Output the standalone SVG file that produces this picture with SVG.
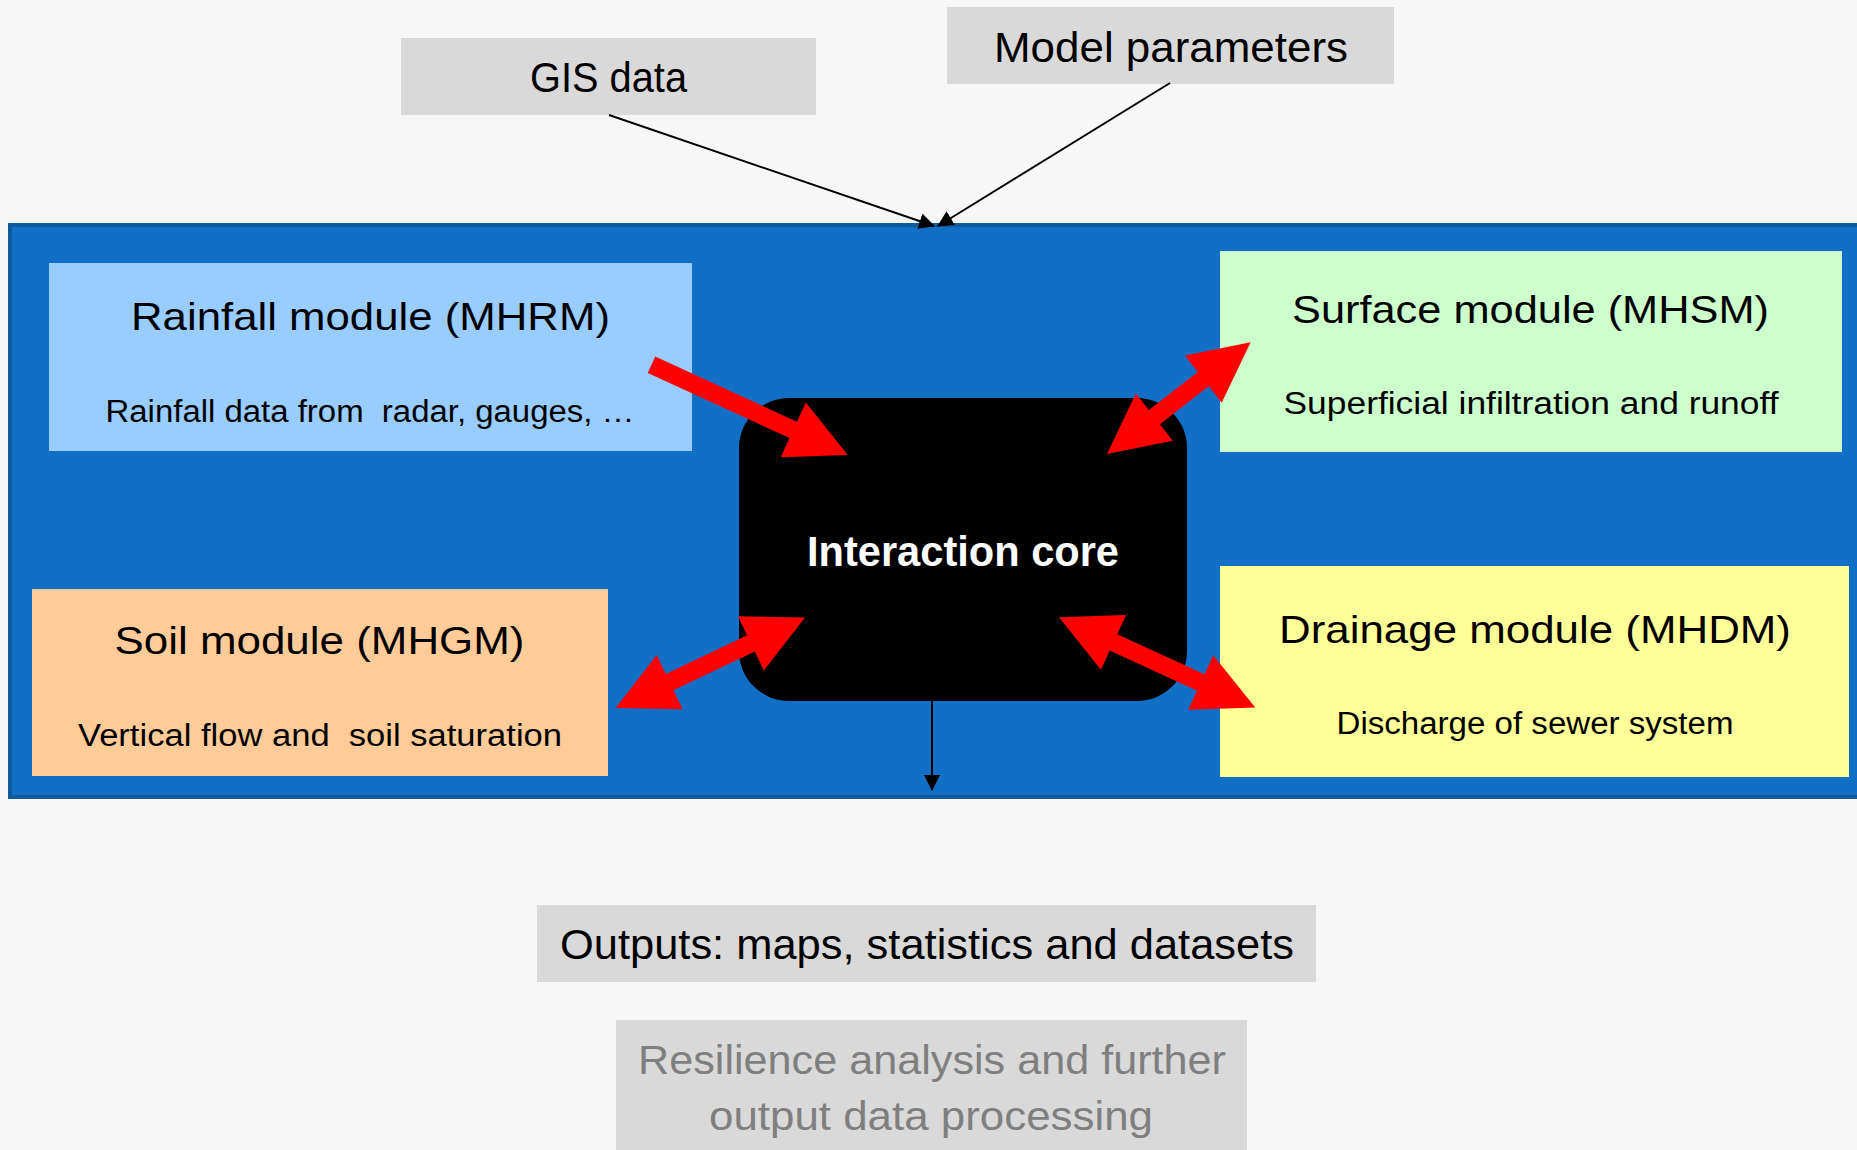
<svg xmlns="http://www.w3.org/2000/svg" width="1857" height="1150" viewBox="0 0 1857 1150">
<style>
  text { font-family: "Liberation Sans", Arial, sans-serif; text-anchor: middle; fill: #000; }
  .t40 { font-size: 39px; }
  .t31 { font-size: 31px; }
  .t42 { font-size: 42px; }
  .core { font-size: 42px; font-weight: bold; fill: #fff; }
  .grey { fill: #7F7F7F; font-size: 40px; }
  .gbox { fill: #D9D9D9; }
  .red { fill: #FF0000; }
  .thin { stroke: #000; stroke-width: 2; fill: none; }
</style>
<defs>
  <marker id="ah" markerWidth="16" markerHeight="16" refX="15" refY="8" orient="auto" markerUnits="userSpaceOnUse">
    <path d="M0,0 L16,8 L0,16 Z" fill="#000"/>
  </marker>
</defs>
<rect x="0" y="0" width="1857" height="1150" fill="#F7F7F7"/>

<g id="panel">
  <rect x="10" y="225" width="1860" height="572" fill="#1170C5" stroke="#0F5A9C" stroke-width="4"/>
</g>

<g id="gis">
  <rect class="gbox" x="401" y="38" width="415" height="77"/>
  <text class="t42" x="608.5" y="92" textLength="157" lengthAdjust="spacingAndGlyphs">GIS data</text>
</g>
<g id="params">
  <rect class="gbox" x="947" y="7" width="447" height="77"/>
  <text class="t42" x="1171" y="62" textLength="354" lengthAdjust="spacingAndGlyphs">Model parameters</text>
</g>

<g id="rainfall">
  <rect x="49" y="263" width="643" height="188" fill="#99CCFF"/>
  <text class="t40" x="370.5" y="329.5" textLength="479" lengthAdjust="spacingAndGlyphs">Rainfall module (MHRM)</text>
  <text class="t31" x="370" y="422" textLength="529" lengthAdjust="spacingAndGlyphs" xml:space="preserve">Rainfall data from  radar, gauges, …</text>
</g>
<g id="soil">
  <rect x="32" y="589" width="576" height="187" fill="#FFCC99"/>
  <text class="t40" x="319.5" y="654" textLength="410" lengthAdjust="spacingAndGlyphs">Soil module (MHGM)</text>
  <text class="t31" x="320" y="746" textLength="484" lengthAdjust="spacingAndGlyphs" xml:space="preserve">Vertical flow and  soil saturation</text>
</g>
<g id="surface">
  <rect x="1220" y="251" width="622" height="201" fill="#CCFFCC"/>
  <text class="t40" x="1530.5" y="322.5" textLength="477" lengthAdjust="spacingAndGlyphs">Surface module (MHSM)</text>
  <text class="t31" x="1531" y="414" textLength="495" lengthAdjust="spacingAndGlyphs">Superficial infiltration and runoff</text>
</g>
<g id="drainage">
  <rect x="1220" y="566" width="629" height="211" fill="#FFFF99"/>
  <text class="t40" x="1535" y="643" textLength="512" lengthAdjust="spacingAndGlyphs">Drainage module (MHDM)</text>
  <text class="t31" x="1535" y="734" textLength="397" lengthAdjust="spacingAndGlyphs">Discharge of sewer system</text>
</g>
<g id="core">
  <rect x="739" y="398" width="448" height="303" rx="50" ry="50" fill="#000"/>
  <text class="core" x="963" y="566" textLength="312" lengthAdjust="spacingAndGlyphs">Interaction core</text>
</g>

<g id="outputs">
  <rect class="gbox" x="537" y="905" width="779" height="77"/>
  <text class="t42" x="927" y="959" textLength="734" lengthAdjust="spacingAndGlyphs">Outputs: maps, statistics and datasets</text>
</g>
<g id="resilience">
  <rect class="gbox" x="616" y="1020" width="631" height="140"/>
  <text class="grey" x="932" y="1074" textLength="588" lengthAdjust="spacingAndGlyphs">Resilience analysis and further</text>
  <text class="grey" x="931" y="1130" textLength="444" lengthAdjust="spacingAndGlyphs">output data processing</text>
</g>

<g id="connectors">
  <line class="thin" x1="609" y1="115" x2="934" y2="226" marker-end="url(#ah)"/>
  <line class="thin" x1="1170" y1="83" x2="938" y2="226" marker-end="url(#ah)"/>
  <line class="thin" x1="932" y1="701" x2="932" y2="790" marker-end="url(#ah)"/>
  <polygon class="red" transform="translate(651.5,364.8) rotate(24.66)" points="0,-9 156,-9 156,-30 216,0 156,30 156,9 0,9"/>
  <polygon class="red" transform="translate(1107,454) rotate(-37.9)" points="0,0 60,-30 60,-9 122,-9 122,-30 182,0 122,30 122,9 60,9 60,30"/>
  <polygon class="red" transform="translate(615.5,708) rotate(-25.5)" points="0,0 60,-30 60,-9 150,-9 150,-30 210,0 150,30 150,9 60,9 60,30"/>
  <polygon class="red" transform="translate(1059,617.3) rotate(24.7)" points="0,0 60,-30 60,-9 156,-9 156,-30 216,0 156,30 156,9 60,9 60,30"/>
</g>
</svg>
